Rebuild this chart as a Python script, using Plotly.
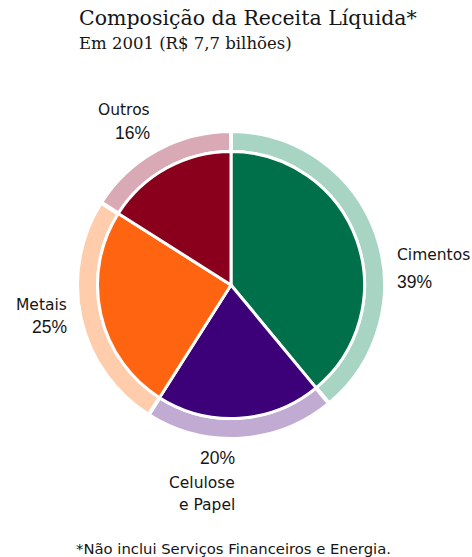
import plotly.graph_objects as go

W, H = 472, 557

categories = ["Cimentos", "Celulose e Papel", "Metais", "Outros"]
values = [39, 20, 25, 16]
inner_colors = ["#00704A", "#3C0078", "#FF6410", "#8A001C"]
ring_colors = ["#A8D5C3", "#C1ABD3", "#FFCDAC", "#D9AAB6"]

title = "Composição da Receita Líquida*"
subtitle = "Em 2001 (R$ 7,7 bilhões)"
footnote = "*Não inclui Serviços Financeiros e Energia."

cx, cy = 231, 285
ring_lw, pie_lw = 4, 3
r_in = 132 + pie_lw / 2
r_ring_out = 152 + ring_lw / 2
r_ring_in = 135 - ring_lw / 2


def px_dom(r):
    x = [(cx - r) / W, (cx + r) / W]
    yc = H - cy
    y = [(yc - r) / H, (yc + r) / H]
    return dict(x=x, y=y)


fig = go.Figure()
fig.add_trace(go.Pie(
    labels=categories, values=values, sort=False, direction="clockwise", rotation=0,
    hole=r_ring_in / r_ring_out, domain=px_dom(r_ring_out),
    marker=dict(colors=ring_colors, line=dict(color="white", width=ring_lw)),
    textinfo="none", hoverinfo="label+percent", showlegend=False,
))
fig.add_trace(go.Pie(
    labels=categories, values=values, sort=False, direction="clockwise", rotation=0,
    domain=px_dom(r_in),
    marker=dict(colors=inner_colors, line=dict(color="white", width=pie_lw)),
    textinfo="none", hoverinfo="label+percent", showlegend=False,
))

sans = "DejaVu Sans"
pct_font = "Liberation Sans"
serif = "DejaVu Serif"


def ann(text, x, y, size, xanchor="center", font=sans, color="#151515"):
    fig.add_annotation(text=text, x=x / W, y=1 - y / H, xref="paper", yref="paper",
                       xanchor=xanchor, yanchor="middle", showarrow=False,
                       font=dict(family=font, size=size, color=color))


# title
ann(title, 77, 18, 20.5, xanchor="left", font=serif)
ann(subtitle, 77, 44, 16.5, xanchor="left", font=serif)

pct = {c: f"{v}%" for c, v in zip(categories, values)}
lab = 15.5
# Outros
ann(categories[3], 152, 110, lab, xanchor="right")
ann(pct["Outros"], 152, 133, 17.5, xanchor="right", font=pct_font)
# Cimentos
ann(categories[0], 395, 255, lab, xanchor="left")
ann(pct["Cimentos"], 395, 282, 17.5, xanchor="left", font=pct_font)
# Metais
ann(categories[2], 69, 305, lab, xanchor="right")
ann(pct["Metais"], 69, 327, 17.5, xanchor="right", font=pct_font)
# Celulose e Papel
ann(pct["Celulose e Papel"], 237, 458, 17.5, xanchor="right", font=pct_font)
ann("Celulose", 237, 483, lab, xanchor="right")
ann("e Papel", 237, 505, lab, xanchor="right")

ann(footnote, 233, 548, 14.8)

fig.update_layout(width=W, height=H, margin=dict(l=0, r=0, t=0, b=0),
                  paper_bgcolor="white", plot_bgcolor="white")
fig.write_html("out.html")
